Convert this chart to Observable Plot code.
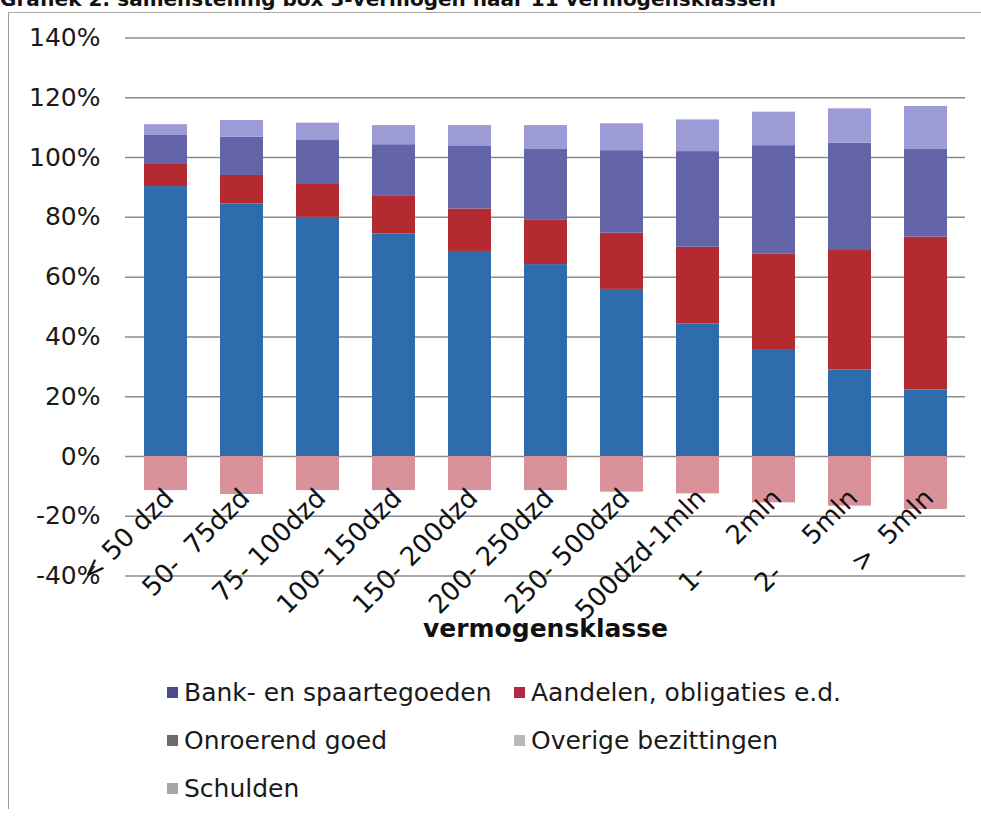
<!DOCTYPE html>
<html><head><meta charset="utf-8">
<script src="https://cdn.jsdelivr.net/npm/d3@7"></script>
<script src="https://cdn.jsdelivr.net/npm/@observablehq/plot@0.6"></script>
<style>
body{margin:0;background:#fff;font-family:"DejaVu Sans",Verdana,sans-serif;}
#wrap{position:relative;width:981px;height:816px;overflow:hidden;background:#fff;}
#title{position:absolute;left:0px;top:-11px;font-weight:bold;font-size:20px;line-height:20px;color:#111;white-space:nowrap;}
#frame{position:absolute;left:8px;top:12px;width:990px;height:796px;border-left:1.5px solid #9a9a9a;border-top:1.5px solid #a8a8a8;}
#chart{position:absolute;left:0;top:0;}
.leg{position:absolute;font-size:25px;color:#1a1a1a;line-height:30px;white-space:nowrap;}
.leg i{display:inline-block;width:11px;height:11px;margin-right:6px;vertical-align:middle;position:relative;top:-2px;}
</style></head>
<body>
<div id="wrap">
  <div id="frame"></div>
  <div id="title">Grafiek 2: samenstelling box 3-vermogen naar 11 vermogensklassen</div>
  <div id="chart"></div>
  <div id="legend"></div>
</div>
<script>
const categories = ["< 50 dzd", "50-  75dzd", "75- 100dzd", "100- 150dzd", "150- 200dzd", "200- 250dzd", "250- 500dzd", "500dzd-1mln", "1-     2mln", "2-     5mln", ">  5mln"];
const seriesNames = ["Bank- en spaartegoeden", "Aandelen, obligaties e.d.", "Onroerend goed", "Overige bezittingen", "Schulden"];
const bank      = [90.3, 84.5, 80.0, 74.5, 68.6, 64.2, 55.9, 44.4, 35.5, 29.0, 22.3];
const aandelen  = [7.4, 9.5, 11.0, 12.5, 14.2, 15.0, 18.8, 25.6, 32.3, 40.2, 51.1];
const onroerend = [9.7, 12.8, 14.7, 17.3, 20.9, 23.7, 27.6, 32.0, 36.2, 35.6, 29.5];
const overige   = [3.6, 5.6, 5.8, 6.4, 7.0, 7.8, 9.0, 10.6, 11.2, 11.5, 14.2];
const schulden  = [-11.4, -12.7, -11.4, -11.4, -11.4, -11.4, -11.9, -12.5, -15.5, -16.6, -17.7];
const yTicks = [-40, -20, 0, 20, 40, 60, 80, 100, 120, 140];
const barColors = ["#2f6cab", "#b32b30", "#6365a8", "#9d9bd6", "#d9929a"];
const legendMarkers = ["#4b4a8c", "#b02a45", "#6b6b6b", "#b8b8b8", "#a6a6a6"];
const xTitle = "vermogensklasse";

const seriesValues = [bank, aandelen, onroerend, overige, schulden];
const rows = [];
categories.forEach((c, i) => {
  seriesValues.forEach((vals, s) => rows.push({cat: c, series: seriesNames[s], value: vals[i]}));
});

const chart = Plot.plot({
  width: 981, height: 660,
  marginLeft: 125, marginRight: 16, marginTop: 37.5, marginBottom: 84.4,
  style: {fontFamily: '"DejaVu Sans", Verdana, sans-serif', fontSize: "25px", color: "#1a1a1a", background: "transparent", overflow: "visible"},
  x: {domain: categories, paddingInner: 0.44, paddingOuter: 0.22, axis: null},
  y: {domain: [-40, 140]},
  color: {domain: seriesNames, range: barColors},
  marks: [
    Plot.gridY(yTicks, {stroke: "#8c8c8c", strokeOpacity: 1, strokeWidth: 1.5}),
    Plot.barY(rows, Plot.stackY({x: "cat", y: "value", fill: "series", order: null})),
    Plot.axisY(yTicks, {tickSize: 0, tickPadding: 25, tickFormat: d => d + "%", label: null, fontSize: 25}),
    Plot.text(categories, {x: d => d, y: 0, text: d => d.replace(/ /g, "\u00a0"), rotate: -45, textAnchor: "end", lineAnchor: "top", dx: -4, dy: 30, fontSize: 26, fill: "#111"}),
    Plot.text([xTitle], {frameAnchor: "bottom", dy: 61, text: d => d, fontWeight: "bold", fontSize: 25, fill: "#111"})
  ]
});
document.getElementById("chart").appendChild(chart);

const legendPos = [[167, 693], [514, 693], [167, 741], [514, 741], [167, 789]];
const legend = document.getElementById("legend");
seriesNames.forEach((name, i) => {
  const d = document.createElement("div");
  d.className = "leg";
  d.style.left = legendPos[i][0] + "px";
  d.style.top = (legendPos[i][1] - 15) + "px";
  d.innerHTML = `<i style="background:${legendMarkers[i]}"></i>`;
  d.appendChild(document.createTextNode(name));
  legend.appendChild(d);
});
</script>
</body></html>
